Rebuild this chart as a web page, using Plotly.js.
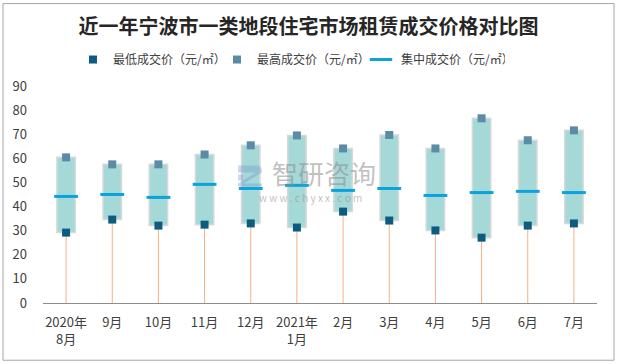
<!DOCTYPE html>
<html><head><meta charset="utf-8">
<script src="https://cdn.plot.ly/plotly-3.0.1.min.js"></script>
<style>html,body{margin:0;padding:0;background:#fff}#chart{width:617px;height:364px}</style>
</head><body><div id="chart"></div>
<script>
const categories = ['2020年<br>8月','9月','10月','11月','12月','2021年<br>1月','2月','3月','4月','5月','6月','7月'];
const minPrice = [29.2, 34.6, 32.1, 32.5, 33.0, 31.3, 37.9, 34.2, 30.1, 27.1, 32.1, 33.0];
const maxPrice = [60.4, 57.5, 57.5, 61.6, 65.4, 69.5, 64.1, 69.7, 64.1, 76.6, 67.5, 71.6];
const midPrice = [44.2, 45.0, 43.8, 49.2, 47.5, 48.8, 46.7, 47.5, 44.6, 45.8, 46.3, 45.8];
const yTicks = [0,10,20,30,40,50,60,70,80,90];

const range = maxPrice.map((v,i)=>v-minPrice[i]);
const font = "'Microsoft YaHei','Noto Sans CJK SC','Noto Sans',sans-serif";

const traces = [
  {type:'bar', x:categories, y:range, base:minPrice, width:0.4, showlegend:false, hoverinfo:'skip',
   marker:{color:'#A5D9D7', line:{color:'#D9D9D9', width:1.5}}},
  {type:'scatter', mode:'markers', x:categories, y:minPrice, name:'最低成交价（元/㎡）',
   marker:{symbol:'square', size:8, color:'#0D5C80'},
   error_y:{type:'data', symmetric:false, array:minPrice.map(()=>0), arrayminus:minPrice, color:'#F4B183', thickness:1, width:0}},
  {type:'scatter', mode:'markers', x:categories, y:maxPrice, name:'最高成交价（元/㎡）',
   marker:{symbol:'square', size:8, color:'#5B8BA6'}},
  {type:'scatter', mode:'markers', x:categories, y:midPrice, name:'集中成交价（元/㎡）',
   marker:{symbol:'line-ew', size:17, color:'#0AA3DC', line:{color:'#0AA3DC', width:3}}}
];

const L=43, R=597, T=85.5, B=302.7;
const px = v => (v-L)/(R-L);
const py = v => (B-v)/(B-T);

const logo = 'M 238 165 L 256 165 Q 262 165 262 171 L 262 172 L 244 183 L 262 183 L 262 186 L 238 186 L 238 183 L 256 172 L 238 172 Z M 238 174 L 243 174 L 243 180 L 238 180 Z';
function toPaper(path){
  return path.replace(/(-?\d+(?:\.\d+)?) (-?\d+(?:\.\d+)?)/g, (m,a,b)=> px(+a).toFixed(5)+','+py(+b).toFixed(5));
}

const layout = {
  width:617, height:364,
  margin:{l:L, r:617-R, t:T, b:364-B, pad:0},
  paper_bgcolor:'#fff', plot_bgcolor:'#fff',
  title:{text:'<b>近一年宁波市一类地段住宅市场租赁成交价格对比图</b>', x:0.5, xanchor:'center', y:1-27/364, yanchor:'middle',
         font:{family:font, size:20, color:'#262626'}},
  legend:{orientation:'h', x:px(73), xanchor:'left', y:py(59), yanchor:'middle', font:{family:font, size:12, color:'#404040'},
          itemwidth:30, entrywidth:99, entrywidthmode:'pixels', tracegroupgap:0, bgcolor:'rgba(0,0,0,0)'},
  xaxis:{type:'category', range:[-0.5, 11.5], autorange:false, automargin:false, showgrid:false, showline:true, linecolor:'#8C8C8C', linewidth:1, ticks:'', zeroline:false,
         tickfont:{family:font, size:13, color:'#404040'}, ticklabelstandoff:7},
  yaxis:{range:[0,90], automargin:false, tickvals:yTicks, showgrid:false, showline:false, zeroline:false, ticks:'',
         tickfont:{family:font, size:13, color:'#404040'}, ticklabelstandoff:15},
  bargap:0.6,
  shapes:[
    {type:'rect', xref:'paper', yref:'paper', x0:px(3), x1:px(614), y0:py(360), y1:py(3),
     line:{color:'#A6A6A6', width:1}, fillcolor:'rgba(0,0,0,0)'},
    {type:'path', xref:'paper', yref:'paper', path:toPaper(logo), fillcolor:'rgba(110,145,200,0.35)', line:{width:0}, layer:'above'}
  ],
  annotations:[
    {xref:'paper', yref:'paper', x:px(324), y:py(172), text:'智研咨询', showarrow:false,
     font:{family:font, size:26, color:'rgba(140,140,140,0.55)'}},
    {xref:'paper', yref:'paper', x:px(310), y:py(197), text:'w w w . c h y x x . c o m', showarrow:false,
     font:{family:font, size:10, color:'rgba(140,140,140,0.55)'}}
  ],
  showlegend:true
};
Plotly.newPlot('chart', traces, layout, {displayModeBar:false, staticPlot:true});
</script></body></html>
